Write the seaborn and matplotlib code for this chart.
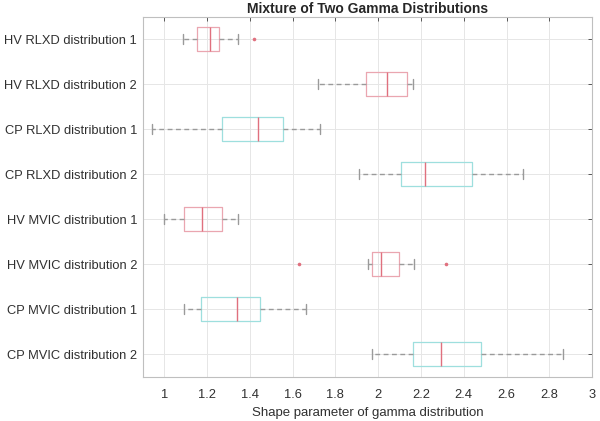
import numpy as np
import pandas as pd
import matplotlib
matplotlib.use("Agg")
import matplotlib.pyplot as plt
import seaborn as sns

# --- dados (min, Q1, mediana, Q3, max dos bigodes) ---
categorias = [
    "HV RLXD distribution 1", "HV RLXD distribution 2",
    "CP RLXD distribution 1", "CP RLXD distribution 2",
    "HV MVIC distribution 1", "HV MVIC distribution 2",
    "CP MVIC distribution 1", "CP MVIC distribution 2",
]
grupos = ["HV", "HV", "CP", "CP", "HV", "HV", "CP", "CP"]
bigode_min = [1.086, 1.718, 0.945, 1.909, 1.000, 1.951, 1.091, 1.972]
q1 = [1.152, 1.944, 1.271, 2.106, 1.092, 1.973, 1.172, 2.163]
mediana = [1.213, 2.041, 1.438, 2.217, 1.178, 2.012, 1.339, 2.294]
q3 = [1.254, 2.135, 1.555, 2.437, 1.271, 2.095, 1.446, 2.482]
bigode_max = [1.346, 2.161, 1.728, 2.677, 1.343, 2.169, 1.662, 2.862]

# outliers (categoria, valor)
outlier_cat = ["HV RLXD distribution 1", "HV MVIC distribution 2", "HV MVIC distribution 2"]
outlier_val = [1.419, 1.631, 2.319]

cores_caixa = {"HV": "#eaa6b0", "CP": "#9edfde"}
cor_mediana = "#e0707e"
cor_bigode = "#9a9a9a"

# 5 pontos por categoria -> quartis exatos com percentil linear
linhas = []
for i, cat in enumerate(categorias):
    for v in (bigode_min[i], q1[i], mediana[i], q3[i], bigode_max[i]):
        linhas.append({"cat": cat, "grupo": grupos[i], "valor": v})
df = pd.DataFrame(linhas)
df_out = pd.DataFrame({"cat": outlier_cat, "valor": outlier_val})

sns.set_theme(style="whitegrid")
plt.rcParams["font.family"] = ["Liberation Sans", "DejaVu Sans"]

fig = plt.figure(figsize=(6, 4.21), dpi=100)
ax = fig.add_axes([0.238, 0.105, 0.749, 0.855])

sns.boxplot(data=df, x="valor", y="cat", hue="grupo", order=categorias,
            palette=cores_caixa, fill=False, whis=np.inf, width=0.53,
            linewidth=0.9, legend=False, ax=ax, capwidths=0.22,
            medianprops={"color": cor_mediana, "linewidth": 1.0},
            whiskerprops={"color": cor_bigode, "linestyle": (0, (3.5, 2.5)), "linewidth": 1.0},
            capprops={"color": cor_bigode, "linewidth": 1.0})

sns.stripplot(data=df_out, x="valor", y="cat", order=categorias, jitter=False,
              color=cor_mediana, size=2.6, ax=ax)

ax.set_xlim(0.9, 3.0)
ax.set_ylim(7.5, -0.5)
ax.set_xticks(np.arange(1.0, 3.01, 0.2))
ax.set_xticklabels(["1", "1.2", "1.4", "1.6", "1.8", "2", "2.2", "2.4", "2.6", "2.8", "3"])
ax.set_xlabel("Shape parameter of gamma distribution", fontsize=9.5, color="#303030", labelpad=4)
ax.set_ylabel("")
ax.set_title("Mixture of Two Gamma Distributions", fontsize=10, fontweight="bold", pad=3)

ax.grid(True, color="#e6e6e6", linewidth=0.7)
ax.tick_params(axis="both", labelsize=9.3, colors="#404040", direction="in",
               length=3, width=0.6, top=True, right=True)
ax.tick_params(axis="x", pad=9)
ax.tick_params(axis="y", pad=4)
ax.tick_params(axis="both", labelcolor="#303030")
for s in ax.spines.values():
    s.set_color("#bfbfbf")
    s.set_linewidth(0.8)

plt.savefig("out.png", dpi=100)
